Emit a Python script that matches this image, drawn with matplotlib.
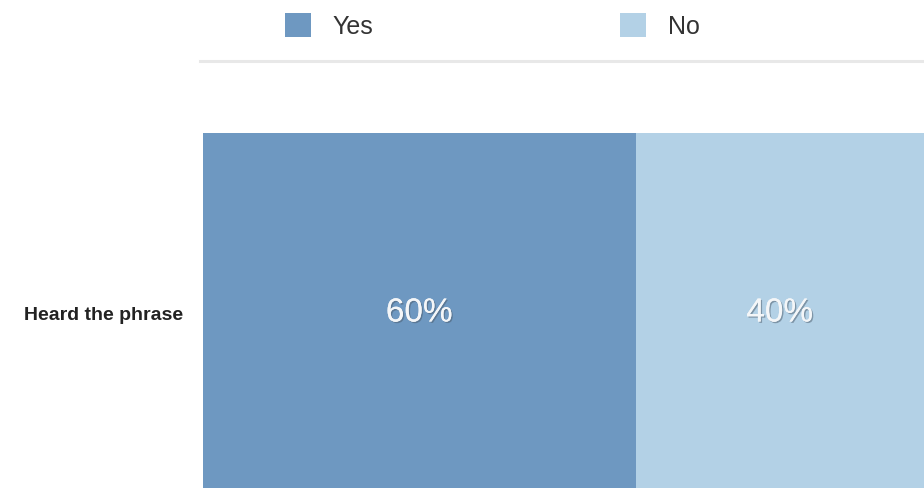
import matplotlib.pyplot as plt
import matplotlib.patheffects as pe
from matplotlib.patches import Patch
from matplotlib.lines import Line2D

categories = ['Heard the phrase']
series_names = ['Yes', 'No']
yes_vals = [60]
no_vals = [40]
colors = ['#6e98c1', '#b3d1e6']

plt.rcParams['font.family'] = ['Liberation Sans', 'DejaVu Sans']

fig = plt.figure(figsize=(9.24, 4.88), dpi=100)
W, H = 924, 488
ax = fig.add_axes([203 / W, -5 / H, 721 / W, 360 / H])

y = range(len(categories))
ax.barh(y, yes_vals, height=1.0, color=colors[0], edgecolor='none')
ax.barh(y, no_vals, left=yes_vals, height=1.0, color=colors[1], edgecolor='none')

shadow = [pe.withSimplePatchShadow(offset=(1, -1), shadow_rgbFace='#4a5a6a', alpha=0.5), pe.Normal()]
for i in y:
    ax.text(yes_vals[i] / 2, i, f'{yes_vals[i]}%', ha='center', va='center',
            fontsize=24, color='#f4f6f8', path_effects=shadow)
    ax.text(yes_vals[i] + no_vals[i] / 2, i, f'{no_vals[i]}%', ha='center', va='center',
            fontsize=24, color='#f4f6f8', path_effects=shadow)

ax.set_xlim(0, yes_vals[0] + no_vals[0])
ax.set_ylim(-0.5, len(categories) - 0.5)
ax.set_yticks(list(y))
ax.set_yticklabels(categories, fontsize=14, fontweight='bold', color='#222222')
ax.tick_params(axis='y', length=0, pad=14)
ax.set_xticks([])
for s in ax.spines.values():
    s.set_visible(False)

# separator under the legend
fig.add_artist(Line2D([200 / W, 1], [1 - 61 / H, 1 - 61 / H], color='#e8e8e8', lw=2.2))

handles = [Patch(facecolor=c, edgecolor='none') for c in colors]
fig.legend(handles, series_names, loc='center left', bbox_to_anchor=(262 / W, 1 - 26 / H),
           ncol=2, frameon=False, fontsize=18, handlelength=1.04, handleheight=1.04,
           handletextpad=0.88, columnspacing=9.85, labelcolor='#333333')

fig.savefig('out.png', dpi=100)
